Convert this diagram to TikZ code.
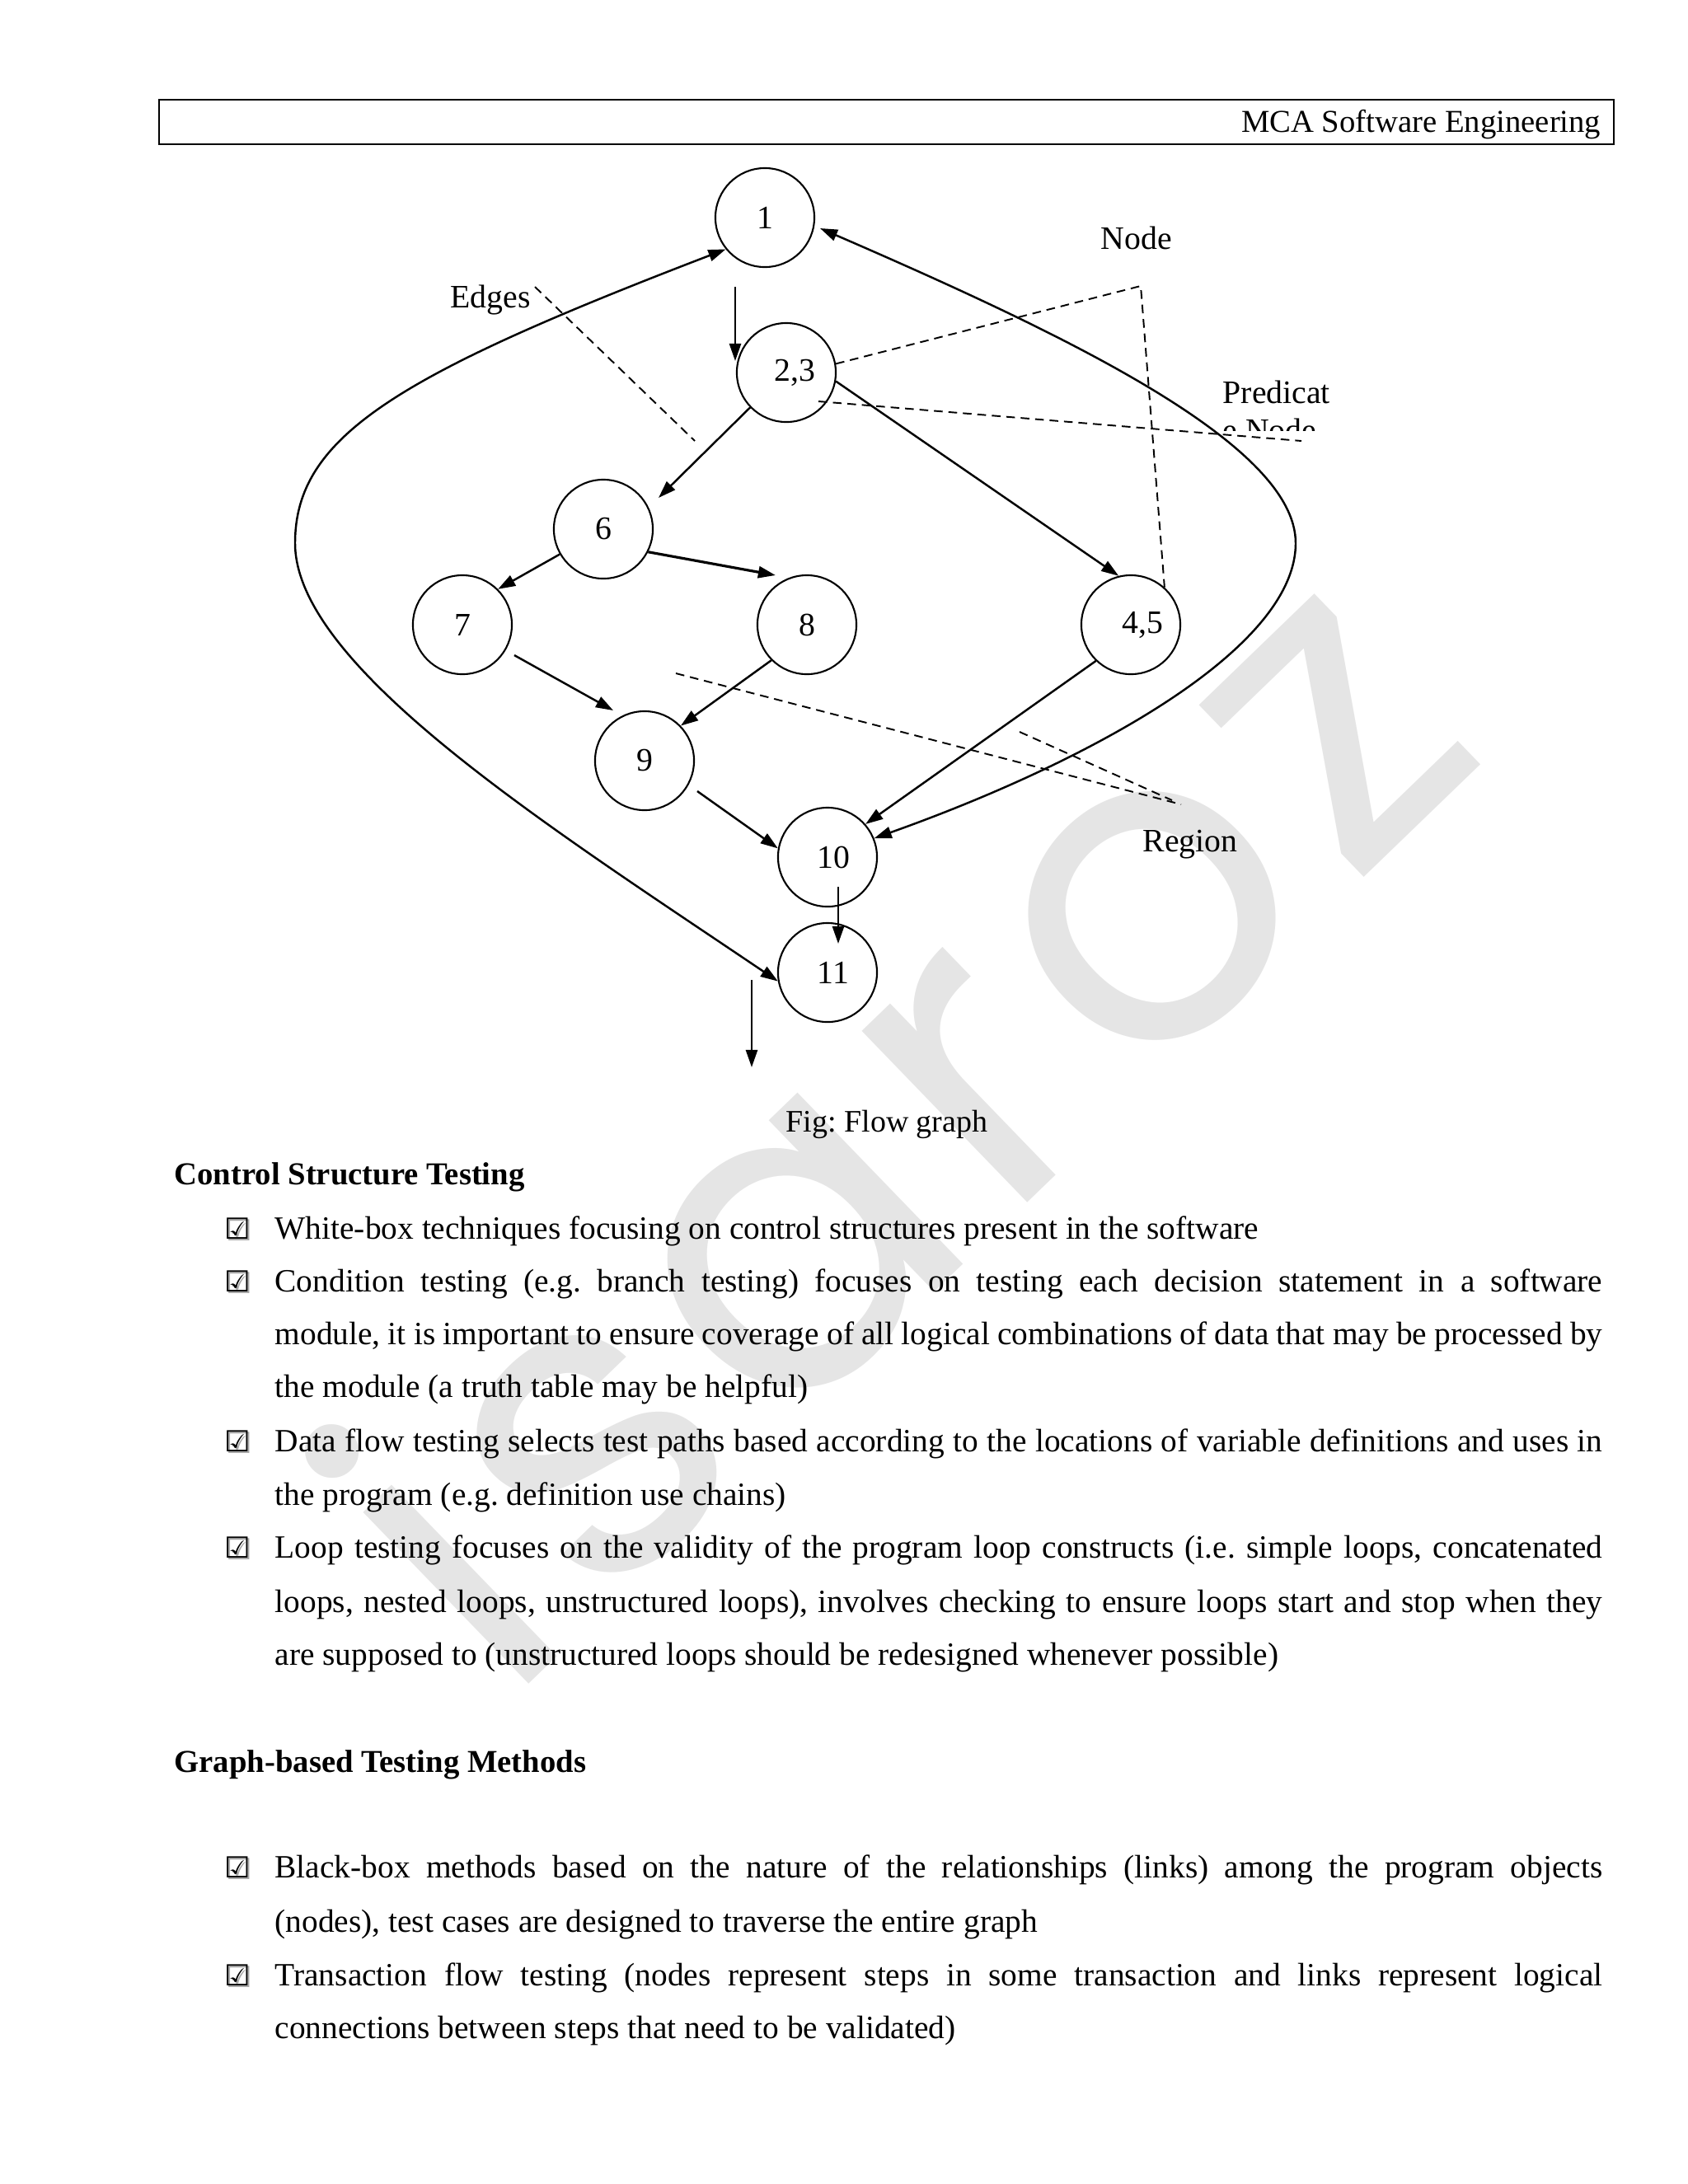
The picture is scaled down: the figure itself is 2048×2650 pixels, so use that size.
\documentclass[tikz,border=0pt]{standalone}
\usepackage{fontspec}
\setmainfont{Liberation Serif}
\newfontfamily\wmfont[LetterSpace=5.0]{Poppins}
\newfontfamily\chkfont{DejaVu Sans}
\usetikzlibrary{arrows.meta, calc, positioning}
\definecolor{wmgray}{RGB}{229,229,229}
\frenchspacing

\begin{document}
\begin{tikzpicture}[x=0.01cm, y=-0.01cm,
  fgnode/.style={circle, draw, line width=0.6pt, minimum size=34.14pt, inner sep=0pt, font=\fontsize{11.3}{13}\selectfont},
  fgedge/.style={-{Triangle[length=6pt,width=4pt]}, line width=0.7pt},
  fgloop/.style={{Triangle[length=6pt,width=4pt]}-{Triangle[length=6pt,width=4pt]}, line width=0.7pt},
  hint/.style={dash pattern=on 3pt off 2pt, line width=0.55pt},
  tag/.style={anchor=base, inner sep=0pt, font=\fontsize{11.3}{13}\selectfont},
  bodyline/.style={anchor=base west, inner sep=0pt, font=\fontsize{11.2}{13}\selectfont},
  headline/.style={anchor=base west, inner sep=0pt, font=\fontsize{11}{13}\selectfont\bfseries},
  chk/.style={anchor=base west, inner sep=0pt, font=\chkfont\fontsize{10}{12}\selectfont},
  chkshadow/.style={chk, text=black!35, xshift=0.6pt, yshift=-0.6pt}]
\useasboundingbox (0,0) rectangle (2048,2650);
\node[anchor=base west, rotate=44, text=wmgray, inner sep=0pt, font=\wmfont\fontsize{150}{154}\selectfont] (wm) at (612,2072) {isaroz};

\draw[line width=0.7pt] (193,121) rectangle (1958,175);
\node[anchor=base east, inner sep=0pt, font=\fontsize{11}{13}\selectfont] (hdr) at (1943,160) {MCA Software Engineering};

\node[fgnode] (n1) at (928,264) {1};
\node[fgnode] (n23) at (954,452) {\hspace*{6pt}2,3};
\node[fgnode] (n6) at (732,642) {6};
\node[fgnode] (n7) at (561,758) {7};
\node[fgnode] (n8) at (979,758) {8};
\node[fgnode] (n45) at (1372,758) {\hspace*{8pt}4,5};
\node[fgnode] (n9) at (782,923) {9};
\node[fgnode] (n10) at (1004,1040) {\hspace*{4pt}10};
\node[fgnode] (n11) at (1004,1180) {\hspace*{4pt}11};

\draw[fgedge] ($(n1)+(-36,84)$) -- ($(n23)+(-62,-14)$);
\draw[fgedge] (n23.224) -- ($(n6)+(67,-38)$);
\draw[fgedge] (n23.350) -- (n45.104);
\draw[fgedge] (n6.210) -- (n7.45);
\draw[fgedge, line width=0.9pt] (n6.333) -- ($(n8)+(-38,-60)$);
\draw[fgedge] ($(n7)+(63,37)$) -- ($(n9)+(-38,-61)$);
\draw[fgedge] (n8.225) -- (n9.44);
\draw[fgedge] ($(n9)+(64,37)$) -- (n10.170);
\draw[fgedge] (n45.226) -- (n10.41);
\draw[fgedge] ($(n10)+(13,36)$) -- ($(n11)+(13,-35)$);
\coordinate (exitA) at ($(n11)+(-92,9)$);
\coordinate (exitB) at ($(n11)+(-92,115)$);
\draw[fgedge] (exitA) -- (exitB);
\draw[fgloop] (n1.219) .. controls (483,455) and (358,529) .. (358,659) .. controls (358,809) and (666,1003) .. (n11.190);
\draw[fgloop] (n10.22) .. controls (1317,926) and (1572,789) .. (1572,659) .. controls (1572,539) and (1295,407) .. ($(n1)+(67,13)$);

\node[tag] (tEdges) at (595,373) {Edges};
\coordinate (edgeA) at (649,348);
\coordinate (edgeB) at (843,535);
\draw[hint] (edgeA) -- (edgeB);
\node[tag] (tNode) at (1379,302) {Node};
\coordinate (nodeTip) at (1384,347);
\draw[hint] (n23.10) -- (nodeTip) -- (n45.48);
\node[tag, anchor=base west] (tPred) at (1483,489) {Predicat};
\begin{scope}
\clip (1470,500) rectangle (1650,522);
\node[tag, anchor=base west] (tPredB) at (1483,535) {e Node};
\end{scope}
\coordinate (predA) at ($(n23)+(39,35)$);
\coordinate (predB) at (1579,535);
\draw[hint] (predA) -- (predB);
\node[tag, anchor=base west] (tRegion) at (1386,1033) {Region};
\coordinate (regA) at (820,817);
\coordinate (regB) at (1237,888);
\coordinate (regTipA) at (1433,976);
\coordinate (regTipB) at (1422,971);
\draw[hint] (regA) -- (regTipA);
\draw[hint] (regB) -- (regTipB);

\node[bodyline, anchor=base, font=\fontsize{10.8}{13}\selectfont] (cap) at (1076,1373) {Fig: Flow graph};

\node[headline] (h1) at (211,1437) {Control Structure Testing};
\foreach \y in {1503,1567,1761,1890,2278,2409} {
  \node[chkshadow] at (272,\y) {☑};
  \node[chk] at (272,\y) {☑};
}
\node[bodyline] (l1) at (333,1503) {White-box techniques focusing on control structures present in the software};
\node[bodyline] (l2) at (333,1567) {\makebox[458pt][s]{Condition testing (e.g. branch testing) focuses on testing each decision statement in a software}};
\node[bodyline] (l3) at (333,1631) {\makebox[458pt][s]{module, it is important to ensure coverage of all logical combinations of data that may be processed by}};
\node[bodyline] (l4) at (333,1695) {the module (a truth table may be helpful)};
\node[bodyline] (l5) at (333,1761) {\makebox[458pt][s]{Data flow testing selects test paths based according to the locations of variable definitions and uses in}};
\node[bodyline] (l6) at (333,1826) {the program (e.g. definition use chains)};
\node[bodyline] (l7) at (333,1890) {\makebox[458pt][s]{Loop testing focuses on the validity of the program loop constructs (i.e. simple loops, concatenated}};
\node[bodyline] (l8) at (333,1956) {\makebox[458pt][s]{loops, nested loops, unstructured loops), involves checking to ensure loops start and stop when they}};
\node[bodyline] (l9) at (333,2020) {are supposed to (unstructured loops should be redesigned whenever possible)};

\node[headline] (h2) at (211,2150) {Graph-based Testing Methods};
\node[bodyline] (l10) at (333,2278) {\makebox[458pt][s]{Black-box methods based on the nature of the relationships (links) among the program objects}};
\node[bodyline] (l11) at (333,2344) {(nodes), test cases are designed to traverse the entire graph};
\node[bodyline] (l12) at (333,2409) {\makebox[458pt][s]{Transaction flow testing (nodes represent steps in some transaction and links represent logical}};
\node[bodyline] (l13) at (333,2473) {connections between steps that need to be validated)};
\end{tikzpicture}
\end{document}
